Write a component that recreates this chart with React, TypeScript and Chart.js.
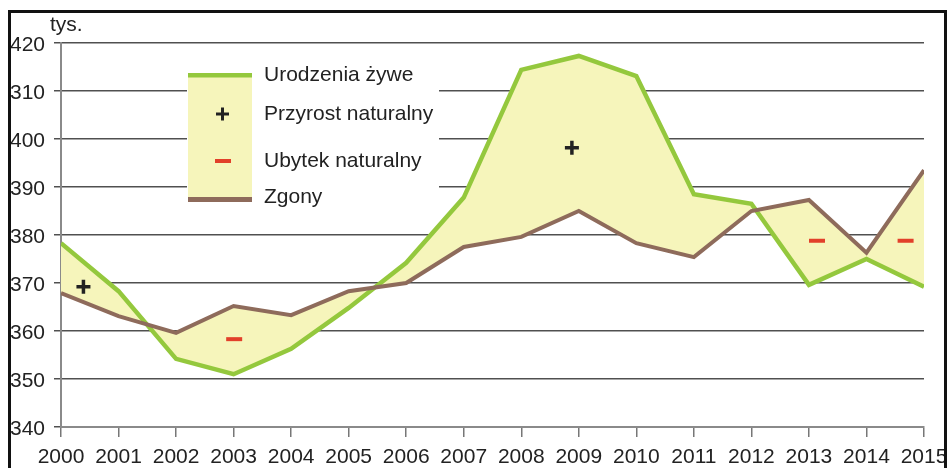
import React, { useEffect, useRef } from "react";
import { Chart, registerables } from "chart.js";

Chart.register(...registerables);

const years = [2000, 2001, 2002, 2003, 2004, 2005, 2006, 2007, 2008, 2009, 2010, 2011, 2012, 2013, 2014, 2015];
const births = [378.3, 368.3, 354.2, 351.0, 356.3, 364.8, 374.2, 387.8, 414.4, 417.3, 413.1, 388.5, 386.5, 369.6, 375.0, 369.2];
const deaths = [367.9, 363.1, 359.6, 365.2, 363.3, 368.3, 370.0, 377.5, 379.6, 385.0, 378.3, 375.4, 385.0, 387.3, 376.3, 393.5];
const yTickValues = [340, 350, 360, 370, 380, 390, 400, 410, 420];
const yTickLabels = ["340", "350", "360", "370", "380", "390", "400", "310", "420"];
const plusMarks = [{ x: 2000.39, y: 369.2 }, { x: 2008.88, y: 398.2 }];
const minusMarks = [{ x: 2003.01, y: 358.3 }, { x: 2013.14, y: 378.8 }, { x: 2014.68, y: 378.8 }];
const legendLabels = ["Urodzenia żywe", "Przyrost naturalny", "Ubytek naturalny", "Zgony"];
const unitLabel = "tys.";

const GREEN = "#94C83D";
const BROWN = "#8E6B5B";
const YELLOW = "#F6F5BB";
const RED = "#E2402A";
const FONT = "'Liberation Sans', Arial, sans-serif";

const decorPlugin = {
  id: "decor",
  beforeDatasetsDraw(chart: any) {
    const ctx = chart.ctx;
    ctx.save();
    // legend
    ctx.fillStyle = "#ffffff";
    ctx.fillRect(187, 58, 252, 148);
    ctx.fillStyle = YELLOW;
    ctx.fillRect(188, 73, 64, 129);
    ctx.fillStyle = GREEN;
    ctx.fillRect(188, 73, 64, 4.5);
    ctx.fillStyle = BROWN;
    ctx.fillRect(188, 197, 64, 5);
    ctx.fillStyle = "#222";
    ctx.fillRect(216, 112.5, 13, 3);
    ctx.fillRect(221, 107.5, 3, 13);
    ctx.fillStyle = RED;
    ctx.fillRect(215, 159, 16, 4);
    ctx.fillStyle = "#222";
    ctx.font = "21px " + FONT;
    ctx.textBaseline = "middle";
    ctx.textAlign = "left";
    const ys = [75, 114, 161, 197];
    legendLabels.forEach((t, i) => ctx.fillText(t, 264, ys[i]));
    ctx.restore();
  },
  afterDraw(chart: any) {
    const ctx = chart.ctx;
    ctx.save();
    ctx.fillStyle = "#222";
    ctx.font = "21px " + FONT;
    ctx.textBaseline = "alphabetic";
    ctx.textAlign = "left";
    ctx.fillText(unitLabel, 50, 31);
    ctx.strokeStyle = "#111";
    ctx.lineWidth = 3;
    ctx.strokeRect(9.5, 11.5, 936, 480);
    ctx.restore();
  },
};

export default function App() {
  const ref = useRef<HTMLCanvasElement>(null);
  useEffect(() => {
    if (!ref.current) return;
    const chart = new Chart(ref.current, {
      type: "line",
      data: {
        datasets: [
          {
            label: "Zgony",
            data: years.map((x, i) => ({ x, y: deaths[i] })),
            borderColor: BROWN,
            borderWidth: 4,
            pointRadius: 0,
            tension: 0,
            fill: "+1",
            backgroundColor: YELLOW,
            order: 2,
          },
          {
            label: "Urodzenia żywe",
            data: years.map((x, i) => ({ x, y: births[i] })),
            borderColor: GREEN,
            borderWidth: 4.5,
            pointRadius: 0,
            tension: 0,
            fill: false,
            order: 3,
          },
          {
            label: "Przyrost naturalny",
            data: plusMarks,
            showLine: false,
            pointStyle: "cross",
            pointRadius: 7,
            pointBorderWidth: 3.5,
            pointBorderColor: "#222",
            borderColor: "#222",
            order: 0,
          },
          {
            label: "Ubytek naturalny",
            data: minusMarks,
            showLine: false,
            pointStyle: "line",
            pointRadius: 8,
            pointBorderWidth: 4,
            pointBorderColor: RED,
            borderColor: RED,
            order: 1,
          },
        ],
      },
      options: {
        animation: false,
        responsive: false,
        layout: { padding: { top: 43, right: 24, left: 0, bottom: 0 } },
        plugins: {
          legend: { display: false },
          tooltip: { enabled: false },
          filler: { drawTime: "beforeDatasetsDraw" },
        },
        scales: {
          x: {
            type: "linear",
            min: 2000,
            max: 2015,
            afterFit: (s: any) => { s.height = 41; s.paddingLeft = 0; s.paddingRight = 0; },
            afterBuildTicks: (s: any) => { s.ticks = years.map((v) => ({ value: v })); },
            ticks: {
              stepSize: 1,
              padding: 8,
              maxRotation: 0,
              autoSkip: false,
              color: "#222",
              font: { family: FONT, size: 21 },
              callback: (v: any) => String(v),
            },
            grid: { drawOnChartArea: false, drawTicks: true, tickLength: 10, color: "#777", lineWidth: 1.5 },
            border: { color: "#8a8a8a", width: 2 },
          },
          y: {
            min: 340,
            max: 420,
            afterFit: (s: any) => { s.width = 61; s.paddingTop = 0; s.paddingBottom = 0; },
            afterBuildTicks: (s: any) => { s.ticks = yTickValues.map((v) => ({ value: v })); },
            ticks: {
              padding: 9,
              labelOffset: 2,
              autoSkip: false,
              color: "#222",
              font: { family: FONT, size: 21 },
              callback: (v: any) => {
                const i = yTickValues.indexOf(Number(v));
                return i >= 0 ? yTickLabels[i] : "";
              },
            },
            grid: { color: "#505050", lineWidth: 1.5, tickLength: 7 },
            border: { color: "#8a8a8a", width: 2 },
          },
        },
      },
      plugins: [decorPlugin],
    } as any);
    return () => chart.destroy();
  }, []);
  return (
    <div style={{ position: "fixed", left: 0, top: 0, width: 948, height: 468, background: "#fff" }}>
      <canvas ref={ref} width={948} height={468} />
    </div>
  );
}
